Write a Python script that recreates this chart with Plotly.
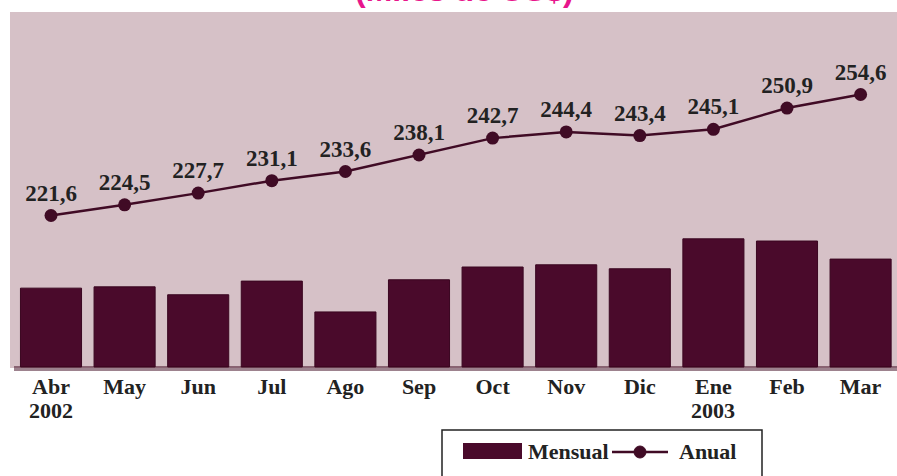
import plotly.graph_objects as go

months = ["Abr", "May", "Jun", "Jul", "Ago", "Sep", "Oct", "Nov", "Dic", "Ene", "Feb", "Mar"]
year_labels = {0: "2002", 9: "2003"}
mensual = [17.9, 18.2, 16.4, 19.5, 12.5, 19.8, 22.7, 23.2, 22.3, 29.1, 28.6, 24.5]
anual = [221.6, 224.5, 227.7, 231.1, 233.6, 238.1, 242.7, 244.4, 243.4, 245.1, 250.9, 254.6]
anual_labels = ["221,6", "224,5", "227,7", "231,1", "233,6", "238,1", "242,7", "244,4", "243,4", "245,1", "250,9", "254,6"]

W, H = 897, 476
L, R, T, B = 10, 897, 12, 368
BG = "#d6c1c7"
BAR = "#4a0a2b"
LINE = "#400b25"
SERIF = "Liberation Serif"


def px(x):
    return (x - L) / (R - L)


def py(y):
    return (B - y) / (B - T)


xi = list(range(len(months)))

fig = go.Figure()
fig.add_trace(go.Bar(
    x=xi, y=mensual, yaxis="y2", name="Mensual",
    marker=dict(color=BAR, line=dict(color="#3a0620", width=1)),
    showlegend=False, hoverinfo="skip",
))
fig.add_trace(go.Scatter(
    x=xi, y=anual, yaxis="y", name="Anual", mode="lines+markers+text",
    line=dict(color=LINE, width=2.5),
    marker=dict(color=LINE, size=13),
    text=anual_labels, textposition="top center",
    textfont=dict(family=SERIF, size=23, color="#222222", weight="bold"),
    showlegend=False, hoverinfo="skip",
))

shapes = [
    # shadow under bars
    dict(type="rect", xref="paper", yref="paper", x0=px(14), x1=px(897), y0=py(371), y1=py(366),
         fillcolor="rgba(60,5,30,0.5)", line=dict(width=0), layer="above"),
    # legend box
    dict(type="rect", xref="paper", yref="paper", x0=px(442), x1=px(762), y0=py(490), y1=py(430),
         line=dict(color="#222222", width=1.5), fillcolor="rgba(0,0,0,0)"),
    # legend bar swatch
    dict(type="rect", xref="paper", yref="paper", x0=px(463), x1=px(522), y0=py(459), y1=py(443),
         fillcolor=BAR, line=dict(width=0)),
    # legend line
    dict(type="line", xref="paper", yref="paper", x0=px(612), x1=px(668), y0=py(452), y1=py(452),
         line=dict(color=LINE, width=2.5)),
    dict(type="circle", xref="paper", yref="paper", x0=px(634), x1=px(646), y0=py(458), y1=py(446),
         fillcolor=LINE, line=dict(color=LINE, width=1)),
]

annotations = [
    dict(text="(Miles de US$)", xref="paper", yref="paper", x=px(465), y=py(10),
         xanchor="center", yanchor="bottom", showarrow=False,
         font=dict(family="Liberation Sans", size=32, color="#e8168c", weight="bold")),
    dict(text="Mensual", xref="paper", yref="paper", x=px(526), y=py(451),
         xanchor="left", yanchor="middle", showarrow=False,
         font=dict(family=SERIF, size=22, color="#222222", weight="bold")),
    dict(text="Anual", xref="paper", yref="paper", x=px(677), y=py(451),
         xanchor="left", yanchor="middle", showarrow=False,
         font=dict(family=SERIF, size=22, color="#222222", weight="bold")),
]
for i, yl in year_labels.items():
    annotations.append(dict(
        text=yl, xref="x", yref="paper", x=i, y=py(410),
        xanchor="center", yanchor="middle", showarrow=False,
        font=dict(family=SERIF, size=22, color="#222222", weight="bold")))

fig.update_layout(
    width=W, height=H,
    margin=dict(l=L, r=W - R, t=T, b=H - B, pad=0),
    paper_bgcolor="white", plot_bgcolor=BG,
    bargap=0.17,
    xaxis=dict(
        tickmode="array", tickvals=xi, ticktext=months,
        range=[(L - 51) / 73.6, (R - 51) / 73.6],
        showgrid=False, zeroline=False, showline=False, ticks="",
        tickfont=dict(family=SERIF, size=22, color="#222222", weight="bold"),
        ticklabelstandoff=3,
    ),
    yaxis=dict(range=[180.0, 277.1], visible=False, showgrid=False, zeroline=False),
    yaxis2=dict(range=[-0.23, 80.6], overlaying="y", visible=False, showgrid=False, zeroline=False),
    shapes=shapes, annotations=annotations,
    showlegend=False,
)

fig.write_html("out.html", config={"displayModeBar": False},
               post_script="document.body.style.margin='0px';")
